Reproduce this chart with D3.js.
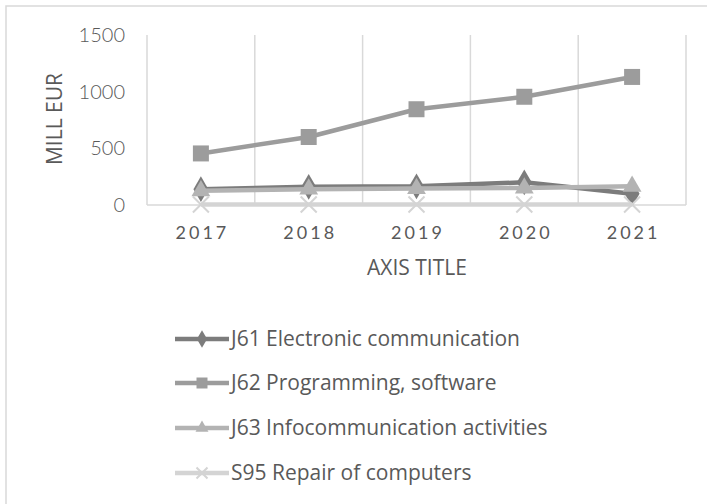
<!DOCTYPE html>
<html>
<head>
<meta charset="utf-8">
<script src="https://cdn.jsdelivr.net/npm/d3@7"></script>
<style>
  body { margin: 0; background: #fff; }
  svg text { font-family: "Open Sans", Lato, sans-serif; fill: #595959; }
</style>
</head>
<body>
<div id="chart"></div>
<script>
// data
const years = ["2017", "2018", "2019", "2020", "2021"];
const j61 = [140, 160, 165, 200, 100];
const j62 = [455, 600, 845, 955, 1130];
const j63 = [125, 140, 145, 150, 165];
const s95 = [5, 5, 5, 5, 5];
const yTicks = [0, 500, 1000, 1500];
const seriesNames = [
  "J61 Electronic communication",
  "J62 Programming, software",
  "J63 Infocommunication activities",
  "S95 Repair of computers"
];

const series = [
  {name: seriesNames[0], values: j61, color: "#7c7c7c", symbol: "diamond"},
  {name: seriesNames[1], values: j62, color: "#9c9c9c", symbol: "square"},
  {name: seriesNames[2], values: j63, color: "#b3b3b3", symbol: "triangle"},
  {name: seriesNames[3], values: s95, color: "#d4d4d4", symbol: "cross"}
];

const W = 707, H = 504;
const plot = {left: 147, right: 686, top: 35, bottom: 205};

const svg = d3.select("#chart").append("svg")
  .attr("width", W)
  .attr("height", H);

// outer border (only top and left edge visible in the crop)
svg.append("path")
  .attr("d", `M6,${H} V6 H${W}`)
  .attr("fill", "none")
  .attr("stroke", "#d9d9d9")
  .attr("stroke-width", 1.5);

// scales
const x = d3.scaleBand()
  .domain(years)
  .range([plot.left, plot.right]);

const y = d3.scaleLinear()
  .domain([0, 1500])
  .range([plot.bottom, plot.top]);

// vertical gridlines at band edges
const edges = years.map(d => x(d)).concat([plot.right]);
svg.append("g")
  .selectAll("line")
  .data(edges)
  .join("line")
    .attr("x1", d => d)
    .attr("x2", d => d)
    .attr("y1", plot.top)
    .attr("y2", plot.bottom)
    .attr("stroke", "#d9d9d9")
    .attr("stroke-width", 1.5);

// x axis line
svg.append("line")
  .attr("x1", plot.left)
  .attr("x2", plot.right)
  .attr("y1", y(0))
  .attr("y2", y(0))
  .attr("stroke", "#d9d9d9")
  .attr("stroke-width", 1.5);

// y tick labels
svg.append("g")
  .selectAll("text")
  .data(yTicks)
  .join("text")
    .attr("x", 125)
    .attr("y", d => y(d))
    .attr("dy", "0.35em")
    .attr("text-anchor", "end")
    .style("font-family", "Lato, sans-serif")
    .style("font-size", "20px")
    .style("font-weight", 300)
    .text(d => d);

// x tick labels
svg.append("g")
  .selectAll("text")
  .data(years)
  .join("text")
    .attr("x", d => x(d) + x.bandwidth() / 2 + 1.5)
    .attr("y", 233)
    .attr("dy", "0.35em")
    .attr("text-anchor", "middle")
    .style("font-family", "Lato, sans-serif")
    .style("font-size", "18px")
    .style("letter-spacing", "3px")
    .text(d => d);

// axis titles
svg.append("text")
  .attr("transform", "translate(55,119) rotate(-90)")
  .attr("dy", "0.35em")
  .attr("text-anchor", "middle")
  .style("font-size", "21px")
  .text("MILL EUR");

svg.append("text")
  .attr("x", 417)
  .attr("y", 268)
  .attr("dy", "0.35em")
  .attr("text-anchor", "middle")
  .style("font-size", "21px")
  .text("AXIS TITLE");

// markers
const symbolType = {
  diamond: d3.symbolDiamond,
  square: d3.symbolSquare,
  triangle: d3.symbolTriangle
};

function drawMarker(g, s, cx, cy, size) {
  if (s.symbol === "cross") {
    const r = size * 0.5;
    g.append("path")
      .attr("d", `M${cx - r},${cy - r}L${cx + r},${cy + r}M${cx - r},${cy + r}L${cx + r},${cy - r}`)
      .attr("stroke", s.color)
      .attr("stroke-width", 2)
      .attr("fill", "none");
  }
  else {
    const area = s.symbol === "square" ? size * size
               : s.symbol === "diamond" ? size * size * 0.75
               : size * size * 0.6;
    g.append("path")
      .attr("d", d3.symbol().type(symbolType[s.symbol]).size(area)())
      .attr("transform", `translate(${cx},${cy})`)
      .attr("fill", s.color);
  }
}

const line = d3.line()
  .x((d, i) => x(years[i]) + x.bandwidth() / 2)
  .y(d => y(d));

// draw series in legend order
series.forEach(s => {
  const g = svg.append("g");
  g.append("path")
    .datum(s.values)
    .attr("d", line)
    .attr("fill", "none")
    .attr("stroke", s.color)
    .attr("stroke-width", 4.5)
    .attr("stroke-linejoin", "round");
  s.values.forEach((v, i) => {
    drawMarker(g, s, x(years[i]) + x.bandwidth() / 2, y(v), 16);
  });
});

// legend
const legend = svg.append("g");
const legendY = [339, 383, 428, 473];
series.forEach((s, i) => {
  const ly = legendY[i];
  legend.append("line")
    .attr("x1", 175)
    .attr("x2", 229)
    .attr("y1", ly)
    .attr("y2", ly)
    .attr("stroke", s.color)
    .attr("stroke-width", 4.5);
  drawMarker(legend, s, 202, ly, 11);
  legend.append("text")
    .attr("x", 231)
    .attr("y", ly)
    .attr("dy", "0.35em")
    .style("font-size", "21px")
    .text(s.name);
});
</script>
</body>
</html>
